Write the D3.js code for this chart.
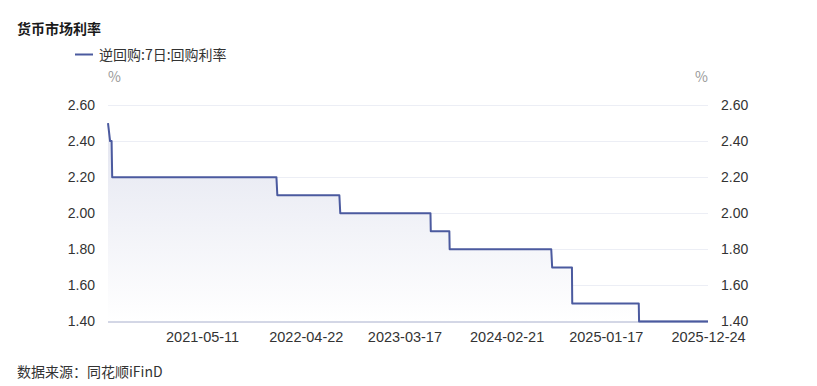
<!DOCTYPE html>
<html>
<head>
<meta charset="utf-8">
<script src="https://cdn.jsdelivr.net/npm/d3@7/dist/d3.min.js"></script>
<style>
  body { margin: 0; background: #fff; }
  svg { display: block; font-family: "Microsoft YaHei", "Noto Sans CJK SC", sans-serif; }
</style>
</head>
<body>
<svg id="chart" width="817" height="386"></svg>
<script>
// 逆回购:7日:回购利率 -- step points
var dates = ["2020-07-01","2020-07-08","2020-07-13","2020-07-15",
             "2022-01-14","2022-01-17","2022-08-12","2022-08-15",
             "2023-06-12","2023-06-13","2023-08-14","2023-08-15",
             "2024-07-19","2024-07-22","2024-09-26","2024-09-27",
             "2025-05-07","2025-05-08","2025-12-24"];
var values = [2.50,2.40,2.40,2.20,
              2.20,2.10,2.10,2.00,
              2.00,1.90,1.90,1.80,
              1.80,1.70,1.70,1.50,
              1.50,1.40,1.40];
var xTickLabels = ["2021-05-11","2022-04-22","2023-03-17","2024-02-21","2025-01-17","2025-12-24"];
var yTicks = [1.40,1.60,1.80,2.00,2.20,2.40,2.60];
var seriesName = "逆回购:7日:回购利率";
var lineColor = "#4b5a9f";

var parse = d3.timeParse("%Y-%m-%d");
var data = dates.map(function(d, i) { return {date: parse(d), value: values[i]}; });

var svg = d3.select("#chart");
var margin = {left: 108, right: 109, top: 105, bottom: 64};
var W = 817, H = 386;

var x = d3.scaleTime()
    .domain([parse(dates[0]), parse(dates[dates.length - 1])])
    .range([margin.left, W - margin.right]);
var y = d3.scaleLinear()
    .domain([1.40, 2.60])
    .range([H - margin.bottom - 0.5, margin.top]);

// title
svg.append("text").attr("x", 17).attr("y", 34)
    .attr("font-size", 14).attr("font-weight", "bold").attr("fill", "#1a1a1a")
    .text("货币市场利率");

// legend
svg.append("line").attr("x1", 75).attr("x2", 93).attr("y1", 54.5).attr("y2", 54.5)
    .attr("stroke", lineColor).attr("stroke-width", 2);
svg.append("text").attr("x", 99).attr("y", 59.5)
    .attr("font-size", 14).attr("fill", "#333")
    .text(seriesName);

// units
svg.append("text").attr("x", margin.left).attr("y", 82)
    .attr("font-size", 14).attr("fill", "#999").text("%");
svg.append("text").attr("x", W - margin.right).attr("y", 82).attr("text-anchor", "end")
    .attr("font-size", 14).attr("fill", "#999").text("%");

// grid
svg.append("g").selectAll("line").data(yTicks.slice(1)).enter().append("line")
    .attr("x1", margin.left).attr("x2", W - margin.right)
    .attr("y1", function(d) { return Math.round(y(d)) + 0.5; })
    .attr("y2", function(d) { return Math.round(y(d)) + 0.5; })
    .attr("stroke", "#eceef5").attr("stroke-width", 1);

// axis line under the series
svg.append("line").attr("x1", margin.left).attr("x2", W - margin.right)
    .attr("y1", y(1.40)).attr("y2", y(1.40))
    .attr("stroke", "#a7aecc").attr("stroke-width", 2);

// area gradient
var grad = svg.append("defs").append("linearGradient").attr("id", "areaGrad")
    .attr("x1", 0).attr("y1", 0).attr("x2", 0).attr("y2", 1);
grad.append("stop").attr("offset", "0%").attr("stop-color", "#e3e5f0");
grad.append("stop").attr("offset", "100%").attr("stop-color", "#ffffff");

var area = d3.area()
    .x(function(d) { return x(d.date); })
    .y0(y(1.40))
    .y1(function(d) { return y(d.value); });
svg.append("path").datum(data).attr("d", area).attr("fill", "url(#areaGrad)");

var line = d3.line()
    .x(function(d) { return x(d.date); })
    .y(function(d) { return y(d.value); });
svg.append("path").datum(data).attr("d", line)
    .attr("fill", "none").attr("stroke", lineColor).attr("stroke-width", 2)
    .attr("stroke-linejoin", "round");

// left axis
var yLeft = svg.append("g").attr("transform", "translate(" + (margin.left - 13) + ",0)")
    .call(d3.axisLeft(y).tickValues(yTicks).tickFormat(d3.format(".2f")).tickSize(0).tickPadding(0));
yLeft.select(".domain").remove();
yLeft.selectAll("text").attr("font-size", 14).attr("fill", "#333").attr("font-family", null);

// right axis
var yRight = svg.append("g").attr("transform", "translate(" + (W - margin.right + 13) + ",0)")
    .call(d3.axisRight(y).tickValues(yTicks).tickFormat(d3.format(".2f")).tickSize(0).tickPadding(0));
yRight.select(".domain").remove();
yRight.selectAll("text").attr("font-size", 14).attr("fill", "#333").attr("font-family", null);

// bottom axis
var xAxis = svg.append("g").attr("transform", "translate(0," + y(1.40) + ")")
    .call(d3.axisBottom(x).tickValues(xTickLabels.map(parse))
        .tickFormat(d3.timeFormat("%Y-%m-%d")).tickSize(0).tickPadding(10));
xAxis.select(".domain").remove();
xAxis.selectAll("text").attr("font-size", 14.5).attr("fill", "#333").attr("font-family", null);

// source
svg.append("text").attr("x", 17).attr("y", 377)
    .attr("font-size", 14).attr("fill", "#333")
    .text("数据来源：同花顺iFinD");
</script>
</body>
</html>
